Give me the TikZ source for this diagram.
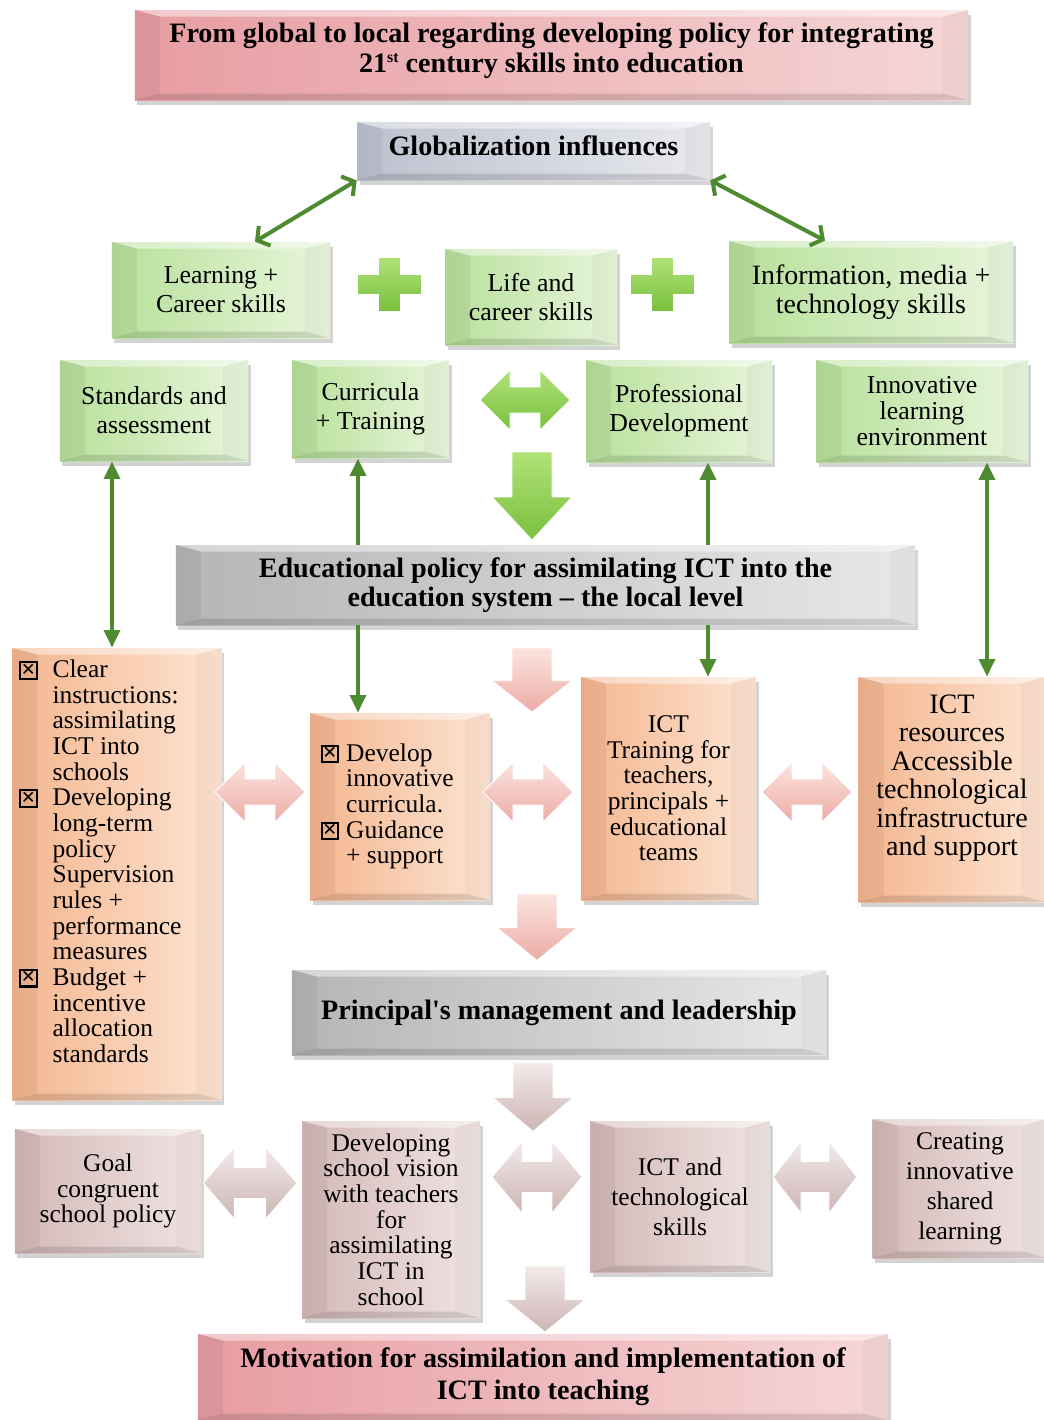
\documentclass[tikz,border=0pt]{standalone}
\usepackage{fontspec}
\setmainfont{Liberation Serif}
\usetikzlibrary{arrows.meta,shadows,calc}

\definecolor{linegreen}{HTML}{4E8A30}
\newcommand{\chk}{{\setlength{\fboxsep}{0pt}\setlength{\fboxrule}{1.2pt}%
  \fbox{\makebox[2.9mm][c]{\rule{0pt}{2.9mm}\fontsize{14}{14}\selectfont\bfseries\raisebox{.1mm}{×}}}}}
\newcommand{\bevx}{5mm}
\newcommand{\bevy}{1.3mm}

\tikzset{
  bevel/.style={path picture={
    \coordinate (bnw) at (path picture bounding box.north west);
    \coordinate (bne) at (path picture bounding box.north east);
    \coordinate (bsw) at (path picture bounding box.south west);
    \coordinate (bse) at (path picture bounding box.south east);
    \fill[white,opacity=.45] (bnw) -- (bne) -- ([xshift=-\bevx,yshift=-\bevy]bne) -- ([xshift=\bevx,yshift=-\bevy]bnw) -- cycle;
    \fill[black,opacity=.03] (bne) -- (bse) -- ([xshift=-\bevx,yshift=\bevy]bse) -- ([xshift=-\bevx,yshift=-\bevy]bne) -- cycle;
    \fill[black,opacity=.12] (bsw) -- (bse) -- ([xshift=-\bevx,yshift=\bevy]bse) -- ([xshift=\bevx,yshift=\bevy]bsw) -- cycle;
    \fill[black,opacity=.05] (bnw) -- (bsw) -- ([xshift=\bevx,yshift=\bevy]bsw) -- ([xshift=\bevx,yshift=-\bevy]bnw) -- cycle;
  }},
  box/.style={rectangle, align=center, inner sep=1pt, bevel,
    drop shadow={opacity=.35, shadow xshift=.5mm, shadow yshift=-.9mm},
    font=\fontsize{14.7}{16.5}\selectfont},
  headbox/.style={box, font=\fontsize{16}{16.5}\selectfont\bfseries},
  titlebox/.style={headbox, left color={rgb,255:red,231;green,157;blue,162}, right color={rgb,255:red,246;green,214;blue,214}},
  silverbox/.style={headbox, left color={rgb,255:red,188;green,193;blue,206}, right color={rgb,255:red,233;green,234;blue,239}},
  graybox/.style={headbox, left color={rgb,255:red,181;green,181;blue,181}, right color={rgb,255:red,232;green,232;blue,232}},
  greenbox/.style={box, left color={rgb,255:red,183;green,224;blue,154}, right color={rgb,255:red,232;green,246;blue,220}},
  peachbox/.style={box, left color={rgb,255:red,244;green,182;blue,143}, right color={rgb,255:red,253;green,228;blue,210}, font=\fontsize{14.5}{14.6}\selectfont},
  mauvebox/.style={box, left color={rgb,255:red,211;green,185;blue,183}, right color={rgb,255:red,240;green,228;blue,227}, font=\fontsize{14.5}{14.6}\selectfont},
  conn/.style={draw=linegreen, line width=2.3pt, >={Triangle[length=10pt,width=9pt]}},
  barb/.style={draw=linegreen, line width=2.3pt, >={Straight Barb[length=5pt,width=13pt]}},
  greenarrow/.style={top color={rgb,255:red,176;green,226;blue,120}, bottom color={rgb,255:red,122;green,192;blue,62}, draw=white, line width=.5pt},
  pinkarrow/.style={top color={rgb,255:red,252;green,228;blue,222}, bottom color={rgb,255:red,236;green,172;blue,166}, draw=white, line width=.5pt},
  mauvearrow/.style={top color={rgb,255:red,243;green,234;blue,234}, bottom color={rgb,255:red,205;green,180;blue,180}, draw=white, line width=.5pt},
  pics/dblarrow/.style={code={
    \path[#1] (-45,0) -- (-15,-30) -- (-15,-13) -- (15,-13) -- (15,-30) -- (45,0)
      -- (15,30) -- (15,13) -- (-15,13) -- (-15,30) -- cycle;}},
  pics/downarrow/.style={code={
    \path[#1] (-20,-44) -- (20,-44) -- (20,1) -- (40,1) -- (0,44) -- (-40,1) -- (-20,1) -- cycle;}},
  pics/plussign/.style={code={
    \path[#1] (-32,-10) -- (-11,-10) -- (-11,-27) -- (11,-27) -- (11,-10) -- (32,-10) -- (32,10)
      -- (11,10) -- (11,27) -- (-11,27) -- (-11,10) -- (-32,10) -- cycle;}}
}

\begin{document}
\begin{tikzpicture}[x=0.2mm,y=-0.2mm]
  \useasboundingbox (0,0) rectangle (1044,1420);

  % global level
  \node[titlebox, minimum width=166.6mm, minimum height=18mm, font=\fontsize{16}{17.5}\selectfont\bfseries] (title) at (551.5,55)
    {From global to local regarding developing policy for integrating\\21\raisebox{.8ex}{\fontsize{9}{9}\selectfont st} century skills into education\\[-9pt]\mbox{}};
  \node[silverbox, minimum width=70.6mm, minimum height=11.6mm] (glob) at (533.5,151) {Globalization influences\\[-10pt]\mbox{}};
  \node[greenbox, minimum width=43.6mm, minimum height=19.2mm] (learn) at (221,290) {Learning +\\Career skills};
  \node[greenbox, minimum width=34.4mm, minimum height=19.2mm] (life) at (531,297) {Life and\\career skills};
  \node[greenbox, minimum width=56.8mm, minimum height=20.4mm, font=\fontsize{15.9}{16.5}\selectfont] (info) at (871,292) {Information, media +\\technology skills};
  \pic at (389,284) {plussign=greenarrow};
  \pic at (662,284) {plussign=greenarrow};
  \draw[barb,<->] (glob.south west) -- ([xshift=6.8mm]learn.north);
  \draw[barb,<->] (glob.south east) -- ([xshift=-9.2mm]info.north);

  \node[greenbox, minimum width=37.6mm, minimum height=20.2mm] (stand) at (154,410.5) {Standards and\\assessment};
  \node[greenbox, minimum width=31.4mm, minimum height=19.6mm] (curr) at (370.5,409) {Curricula\\+ Training};
  \node[greenbox, minimum width=37.2mm, minimum height=20.4mm] (prof) at (679,411) {Professional\\Development};
  \node[greenbox, minimum width=42.4mm, minimum height=20.4mm, font=\fontsize{14.7}{14.8}\selectfont] (innov) at (922,411) {Innovative\\learning\\environment};
  \pic at (525,400) {dblarrow=greenarrow};
  \pic at (532,496) {downarrow=greenarrow};

  % local level
  \node[graybox, minimum width=147.8mm, minimum height=16mm] (edpol) at (545.5,585)
    {Educational policy for assimilating ICT into the\\education system -- the local level};

  \node[peachbox, minimum width=41.8mm, minimum height=90.4mm, align=left] (rules) at (117,874)
    {\llap{\chk\hspace{3mm}}Clear\\instructions:\\assimilating\\ICT into\\schools\\
     \llap{\chk\hspace{3mm}}Developing\\long-term\\policy\\Supervision\\rules +\\performance\\measures\\
     \llap{\chk\hspace{3mm}}Budget +\\incentive\\allocation\\standards\\\mbox{}};
  \node[peachbox, minimum width=36mm, minimum height=37.4mm, align=left] (devel) at (400,806.5)
    {\llap{\chk\hspace{1.4mm}}Develop\\innovative\\curricula.\\\llap{\chk\hspace{1.4mm}}Guidance\\+ support};
  \node[peachbox, minimum width=35mm, minimum height=44.6mm] (train) at (668.5,788.5)
    {ICT\\Training for\\teachers,\\principals +\\educational\\teams};
  \node[peachbox, minimum width=37.4mm, minimum height=45mm, font=\fontsize{16}{16.2}\selectfont] (res) at (952,789.5)
    {ICT\\resources\\Accessible\\technological\\infrastructure\\and support\\\mbox{}};
  \pic at (532,680) {downarrow={pinkarrow, yscale=.73}};
  \pic at (260,792) {dblarrow=pinkarrow};
  \pic at (528,792) {dblarrow=pinkarrow};
  \pic at (807,792) {dblarrow=pinkarrow};
  \pic at (537,927) {downarrow={pinkarrow, yscale=.76}};

  \coordinate (sx) at ([xshift=-8.4mm]stand.south);
  \coordinate (cx) at ([xshift=-2.5mm]curr.south);
  \coordinate (px) at ([xshift=5.8mm]prof.south);
  \coordinate (ix) at ([xshift=13mm]innov.south);
  \draw[conn,<->] (sx) -- (sx |- rules.north);
  \draw[conn,->] (cx |- edpol.north) -- (cx);
  \draw[conn,->] (cx |- edpol.south) -- (cx |- devel.north);
  \draw[conn,->] (px |- edpol.north) -- (px);
  \draw[conn,->] (px |- edpol.south) -- (px |- train.north);
  \draw[conn,<->] (ix) -- (ix |- res.north);

  % school level
  \node[graybox, minimum width=106.8mm, minimum height=17mm] (princ) at (559,1012.5) {Principal\textquotesingle s management and leadership};
  \pic at (533,1097) {downarrow={mauvearrow, yscale=.78}};
  \node[mauvebox, minimum width=37.2mm, minimum height=24.8mm] (goal) at (108,1191) {Goal\\congruent\\school policy};
  \node[mauvebox, minimum width=35.6mm, minimum height=39.4mm] (vision) at (391,1219.5)
    {Developing\\school vision\\with teachers\\for\\assimilating\\ICT in\\school};
  \node[mauvebox, minimum width=36mm, minimum height=30.2mm, font=\fontsize{14.5}{17}\selectfont] (skills) at (680,1196.5) {ICT and\\technological\\skills};
  \node[mauvebox, minimum width=35mm, minimum height=27.8mm, font=\fontsize{14.5}{17}\selectfont] (create) at (960,1188.5) {Creating\\innovative\\shared\\learning};
  \pic at (250,1183) {dblarrow={mauvearrow, xscale=1.04, yscale=1.2}};
  \pic at (537,1177) {dblarrow={mauvearrow, xscale=1.0, yscale=1.2}};
  \pic at (815,1177) {dblarrow={mauvearrow, xscale=.93, yscale=1.2}};
  \pic at (545,1299) {downarrow={mauvearrow, yscale=.75}};
  \node[titlebox, minimum width=138mm, minimum height=17.2mm, font=\fontsize{16}{18.2}\selectfont\bfseries] (motiv) at (543,1377)
    {Motivation for assimilation and implementation of\\ICT into teaching};
\end{tikzpicture}
\end{document}
